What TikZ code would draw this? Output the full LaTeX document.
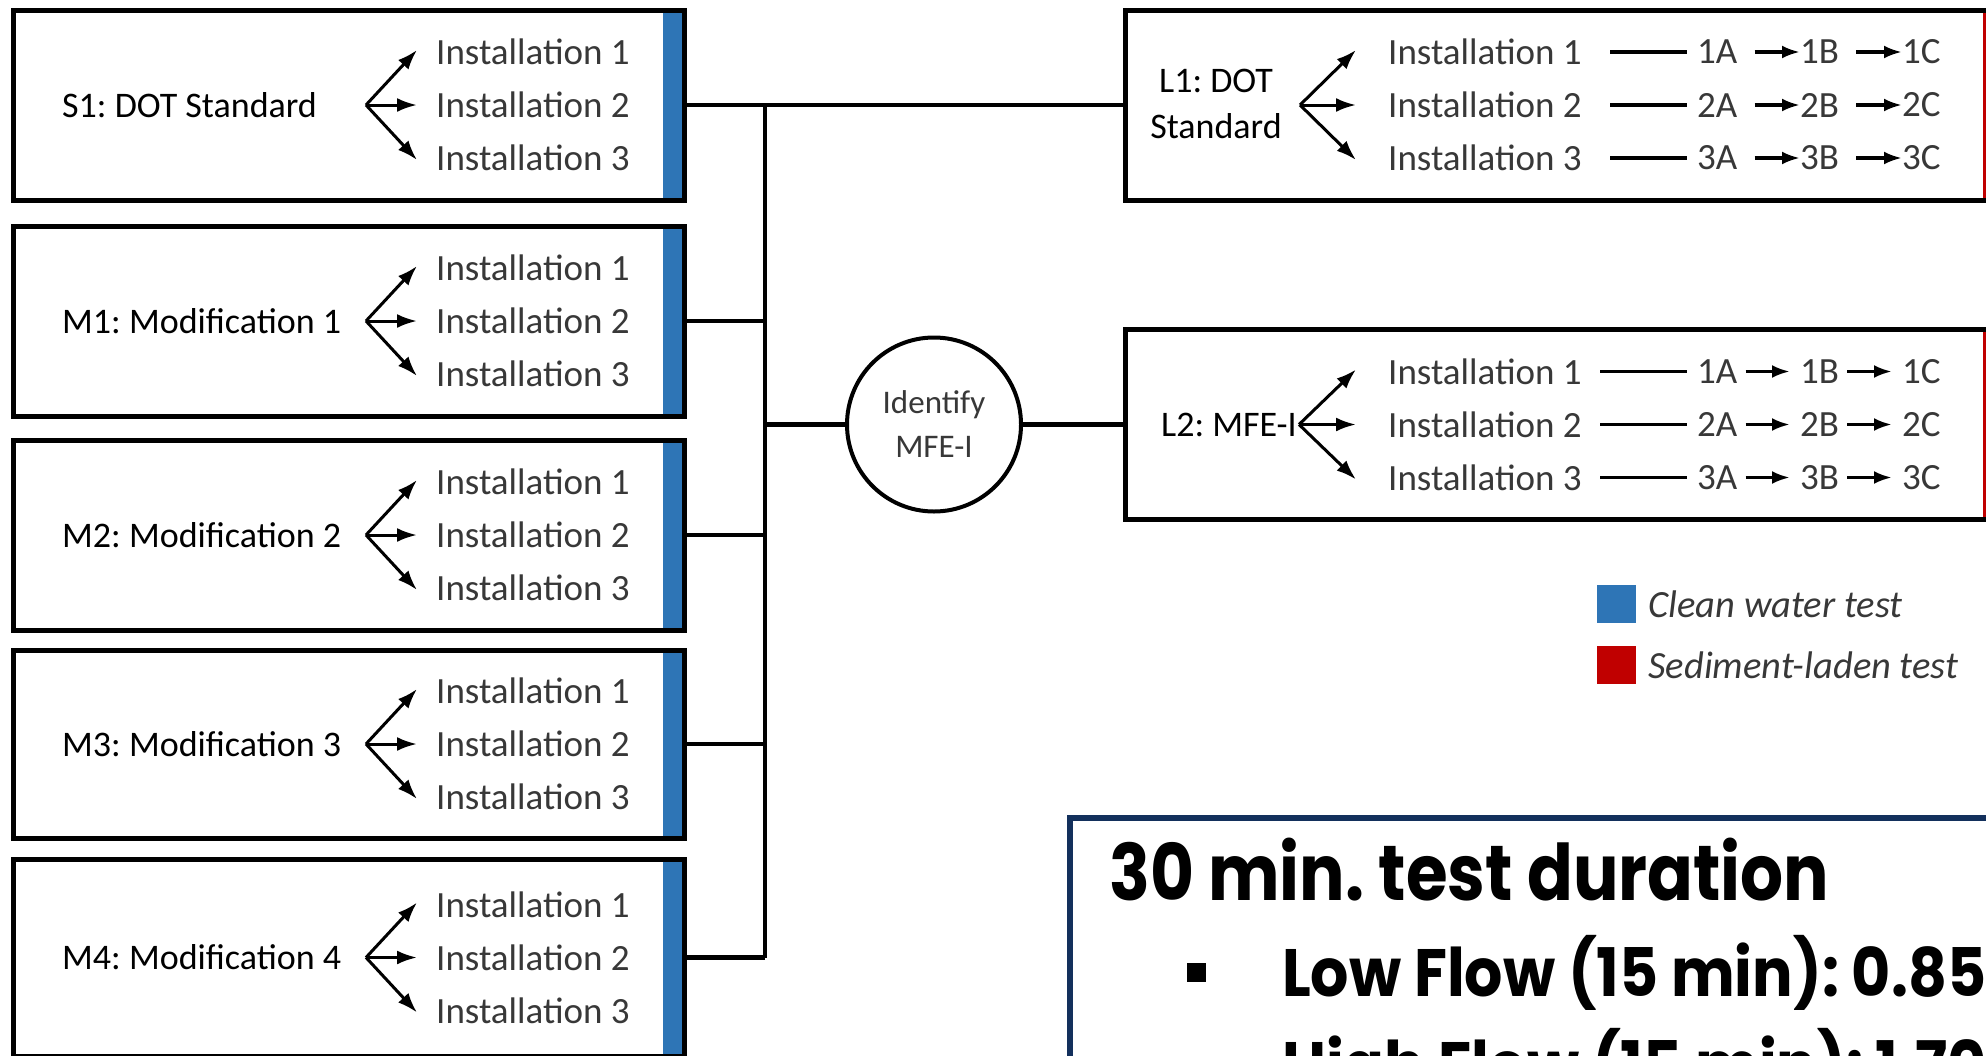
\documentclass[tikz,border=0pt]{standalone}
\usepackage{fontspec}
\usepackage{graphicx}
\usetikzlibrary{arrows.meta}
\setmainfont{Carlito}
\newfontfamily\gothic{Poppins}
\definecolor{cleanblue}{HTML}{2E75B6}
\definecolor{sedred}{HTML}{C00000}
\definecolor{navy}{HTML}{13305C}
\definecolor{instgray}{HTML}{383838}
\newlength\lowwd
\frenchspacing
\begin{document}
\settowidth\lowwd{\gothic\bfseries\fontsize{67}{80}\selectfont Low Flow (15 min): 0.85}%
\pgfmathsetmacro\fac{704/\lowwd}%
\begin{tikzpicture}[x=1pt,y=-1pt,
  box/.style={draw=black, line width=5pt, outer sep=0pt, inner sep=0pt, fill=white, rectangle},
  lbl/.style={font=\fontsize{36}{46}\selectfont, inner sep=0pt, text=black},
  inst/.style={font=\fontsize{37}{40}\selectfont, inner sep=0pt, text=instgray, anchor=west},
  fan/.style={line width=3pt, -{Latex[length=20pt,width=14pt]}},
  chain/.style={line width=3.5pt, -{Latex[length=18pt,width=13pt]}},
  dashln/.style={line width=3.5pt},
  conn/.style={line width=4.5pt},
  legtxt/.style={font=\fontsize{38.5}{40}\selectfont\itshape, text=instgray, inner sep=0pt, anchor=west},
  bigtxt/.style={font=\gothic\bfseries\fontsize{78}{90}\selectfont, inner sep=0pt, anchor=base west},
  subtxt/.style={font=\gothic\bfseries\fontsize{67}{80}\selectfont, inner sep=0pt, anchor=base west}
]
\path[use as bounding box] (0,0) rectangle (1986,1055);
\clip (0,0) rectangle (1986,1055);

% ---------------- left boxes ----------------
\foreach \n/\lab/\t/\b in {s1/S1: DOT Standard/10/200, m1/M1: Modification 1/226/416, m2/M2: Modification 2/440/630, m3/M3: Modification 3/650/838, m4/M4: Modification 4/859/1056}{
  \pgfmathsetmacro\cy{(\t+\b)/2}
  \pgfmathsetmacro\hh{\b-\t}
  \node[box, minimum width=671pt, minimum height=\hh pt] (\n) at (348.5,\cy) {};
  \fill[cleanblue] ([xshift=-21pt]\n.north east) rectangle (\n.south east);
  \draw[line width=5pt] (\n.north west) rectangle (\n.south east);
  \node[lbl, anchor=west] (\n-lab) at (62,\cy) {\lab};
  \coordinate (\n-o) at (366,\cy);
  \node[inst] (\n-i1) at (436,\cy-53) {Installation 1};
  \node[inst] (\n-i2) at (436,\cy) {Installation 2};
  \node[inst] (\n-i3) at (436,\cy+53) {Installation 3};
  \draw[fan] (\n-o) -- ([xshift=-19pt,yshift=2pt]\n-i1.west);
  \draw[fan] (\n-o) -- ([xshift=-19pt]\n-i2.west);
  \draw[fan] (\n-o) -- ([xshift=-19pt,yshift=-2pt]\n-i3.west);
}

% ---------------- circle ----------------
\node[circle, draw=black, line width=4pt, fill=white, minimum size=174pt, inner sep=0pt,
      align=center, font=\fontsize{33}{44}\selectfont, text=instgray] (circ) at (934,424.5) {Identify\\MFE-I};

% ---------------- right boxes ----------------
\node[box, minimum width=885pt, minimum height=190pt] (l1) at (1567.5,105) {};
\fill[sedred] ([xshift=-27pt]l1.north east) rectangle (l1.south east);
\draw[line width=5pt] (l1.north west) rectangle (l1.south east);
\node[box, minimum width=885pt, minimum height=190pt] (l2) at (1567.5,424.5) {};
\fill[sedred] ([xshift=-27pt]l2.north east) rectangle (l2.south east);
\draw[line width=5pt] (l2.north west) rectangle (l2.south east);

\node[lbl, align=center] (l1-lab) at (1216,104) {L1: DOT\\Standard};
\node[lbl, anchor=east] (l2-lab) at (1297,424.5) {L2: MFE-I};
\coordinate (l1-o) at (1300,105);
\coordinate (l2-o) at (1299,424.5);

\foreach \n/\cy/\dx/\ga/\gb in {l1/105/1610/17/0, l2/424.5/1600/8/10}{
  \foreach \k in {1,2,3}{
    \pgfmathsetmacro\ry{\cy+(\k-2)*53}
    \node[inst] (\n-i\k) at (1388,\ry) {Installation \k};
    \coordinate (\n-d\k) at (\dx,\ry);
    \node[inst] (\n-a\k) at (1697,\ry) {\k A};
    \node[inst] (\n-b\k) at (1800,\ry) {\k B};
    \node[inst] (\n-c\k) at (1902,\ry) {\k C};
    \draw[dashln] (\n-d\k) -- ([xshift=-10pt]\n-a\k.west);
    \draw[chain] ([xshift=\ga pt]\n-a\k.east) -- ([xshift=-\gb pt]\n-b\k.west);
    \draw[chain] ([xshift=\ga pt]\n-b\k.east) -- ([xshift=-\gb pt]\n-c\k.west);
  }
  \draw[fan] (\n-o) -- ([xshift=-32pt,yshift=2pt]\n-i1.west);
  \draw[fan] (\n-o) -- ([xshift=-32pt]\n-i2.west);
  \draw[fan] (\n-o) -- ([xshift=-32pt,yshift=-2pt]\n-i3.west);
}

% ---------------- connectors ----------------
\coordinate (jtop) at (765,105);
\draw[conn] (s1.east) -- (l1.west);
\draw[conn] (jtop) -- (jtop |- m4.east);
\foreach \m in {m1,m2,m3,m4}{
  \draw[conn] (\m.east) -- (\m.east -| jtop);
}
\draw[conn] (circ.west) -- (circ.west -| jtop);
\draw[conn] (circ.east) -- (l2.west);

% ---------------- legend ----------------
\node[fill=cleanblue, minimum width=39pt, minimum height=38pt, inner sep=0pt] (lgb) at (1616.5,604) {};
\node[fill=sedred, minimum width=39pt, minimum height=38pt, inner sep=0pt] (lgr) at (1616.5,665) {};
\node[legtxt] (lgbt) at ([xshift=12pt]lgb.east) {Clean water test};
\node[legtxt] (lgrt) at ([xshift=12pt]lgr.east) {Sediment-laden test};

% ---------------- duration box ----------------
\node[draw=navy, line width=6pt, fill=white, outer sep=0pt, inner sep=0pt, minimum width=1030pt, minimum height=382pt] (dur) at (1585,1009) {};
\node[bigtxt] (title) at (1109,900) {\resizebox{720pt}{\height}{30 min. test duration}};
\node[fill=black, minimum size=19pt, inner sep=0pt] (bul) at (1196.5,972) {};
\node[subtxt] (low) at (1282,996) {\scalebox{\fac}[1]{Low Flow (15 min): 0.85}};
\node[subtxt] (high) at (1282,1089) {\scalebox{\fac}[1]{High Flow (15 min): 1.70}};
\end{tikzpicture}
\end{document}
